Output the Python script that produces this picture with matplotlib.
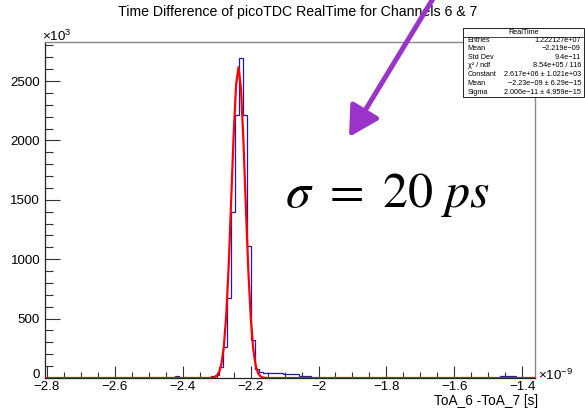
import numpy as np
import matplotlib
matplotlib.use("Agg")
import matplotlib.pyplot as plt
import matplotlib.transforms as mtransforms
from matplotlib.patches import Rectangle, FancyArrowPatch
from matplotlib.ticker import FixedLocator, MultipleLocator, FuncFormatter

plt.rcParams['font.family'] = ['Liberation Sans', 'DejaVu Sans']
plt.rcParams['mathtext.fontset'] = 'custom'
plt.rcParams['mathtext.rm'] = 'Liberation Sans'
plt.rcParams['mathtext.it'] = 'Liberation Sans:italic'

# ---------------- data (x in 1e-9 s, counts in 1e3) ----------------
title = "Time Difference of picoTDC RealTime for Channels 6 & 7"
xlabel = "ToA_6 -ToA_7 [s]"
bin_width = 0.0118
bin_centers = [-2.4164, -2.3102, -2.2984, -2.2866, -2.2748, -2.2630, -2.2512,
               -2.2394, -2.2276, -2.2158, -2.2040, -2.1922, -2.1804, -2.1686,
               -2.1568, -2.1450, -2.1332, -2.1214, -2.1096, -2.0978, -2.0860,
               -2.0742, -2.0624, -2.0506, -2.0388, -2.0270,
               -1.4606, -1.4488, -1.4370, -1.4252]
counts = [20, 18, 25, 93, 262, 676, 1394,
          2213, 2692, 2213, 1109, 321, 76, 50,
          42, 40, 40, 38, 38, 32, 30,
          31, 30, 20, 19, 18,
          17, 17, 17, 15]
xticks = [-2.8, -2.6, -2.4, -2.2, -2.0, -1.8, -1.6, -1.4]
yticks = [0, 500, 1000, 1500, 2000, 2500]
x_range = (-2.806, -1.362)
y_max = 2829
fit_const = 2617.0
fit_mean = -2.236
fit_sigma = 0.02006
fit_npx = 200
stats_title = "RealTime"
stats_labels = ["Entries", "Mean", "Std Dev", "\u03c7\u00b2 / ndf", "Constant", "Mean", "Sigma"]
stats_values = ["1.222127e+07", "\u22122.219e\u221209", "9.4e\u221211", "8.54e+05 / 116",
                "2.617e+06 \u00b1 1.021e+03", "\u22122.23e\u221209 \u00b1 6.29e\u221215",
                "2.006e\u221211 \u00b1 4.959e\u221215"]
annotation = r"$\sigma\ =\ \mathrm{20}\ ps$"

# ---------------- figure ----------------
W, H = 585, 408
fig = plt.figure(figsize=(W / 100, H / 100), dpi=100)
L, R, B, T = 45, 535, 378, 42
ax = fig.add_axes([L / W, 1 - B / H, (R - L) / W, (B - T) / H])

# histogram on a regular grid
ref_c = bin_centers[8]
n_left = int(np.ceil((ref_c - bin_width / 2 - x_range[0]) / bin_width))
start = ref_c - bin_width / 2 - n_left * bin_width
nb = int(np.ceil((x_range[1] - start) / bin_width))
edges = start + bin_width * np.arange(nb + 1)
full = np.zeros(nb)
for c, v in zip(bin_centers, counts):
    full[int(np.floor((c - start) / bin_width))] = v
ax.stairs(full, edges, color='#1c1ca8', lw=0.9, baseline=None, zorder=2)

# gaussian fit curve
xf = np.linspace(x_range[0], x_range[1], fit_npx + 1)
yf = fit_const * np.exp(-0.5 * ((xf - fit_mean) / fit_sigma) ** 2)
ax.plot(xf, yf, color='#ff0000', lw=1.6, zorder=3, solid_joinstyle='round')

ax.set_xlim(*x_range)
ax.set_ylim(0, y_max)

ax.xaxis.set_major_locator(FixedLocator(xticks))
ax.xaxis.set_minor_locator(MultipleLocator(0.05))
ax.yaxis.set_major_locator(FixedLocator(yticks))
ax.yaxis.set_minor_locator(MultipleLocator(100))
ax.xaxis.set_major_formatter(FuncFormatter(lambda v, p: f"{v:g}".replace('-', '\u2212')))
ax.yaxis.set_major_formatter(FuncFormatter(lambda v, p: f"{v:g}"))
ax.tick_params(which='both', direction='in', top=False, right=False, labelsize=9.6, color='#333333')
ax.tick_params(axis='x', which='major', length=9, width=0.8, pad=2.0)
ax.tick_params(axis='x', which='minor', length=4.5, width=0.8)
ax.tick_params(axis='y', which='major', length=11, width=0.8, pad=3.5)
ax.tick_params(axis='y', which='minor', length=5.5, width=0.8)
for s in ['left', 'bottom']:
    ax.spines[s].set_color('#222222')
    ax.spines[s].set_linewidth(0.9)
for s in ['top', 'right']:
    ax.spines[s].set_color('#888888')
    ax.spines[s].set_linewidth(1.0)

# lift the "0" y label slightly, as in the reference
fig.canvas.draw()
zero_lab = ax.yaxis.get_majorticklabels()[0]
zero_lab.set_transform(zero_lab.get_transform() +
                       mtransforms.ScaledTranslation(0, 4 / 100, fig.dpi_scale_trans))

# axis multipliers and labels
fig.text(L / W - 0.005, 1 - 36 / H, r"$\times10^{3}$", fontsize=9.6, ha='left', va='center')
fig.text(538 / W, 1 - 375 / H, r"$\times10^{-9}$", fontsize=9.6, ha='left', va='center')
fig.text(538 / W, 1 - 401.5 / H, xlabel, fontsize=9.8, ha='right', va='center')
fig.text(298 / W, 1 - 12 / H, title, fontsize=10.2, ha='center', va='center')

# stats box
bx0, bx1, by0, by1 = 463, 584, 28, 97
fig.patches.append(Rectangle((bx0 / W, 1 - by1 / H), (bx1 - bx0) / W, (by1 - by0) / H,
                             transform=fig.transFigure, facecolor='white',
                             edgecolor='#222222', lw=0.7, zorder=5))
fig.lines.append(plt.Line2D([bx0 / W, bx1 / W], [1 - 36.7 / H, 1 - 36.7 / H],
                            transform=fig.transFigure, color='#222222', lw=0.6, zorder=6))
fig.text((bx0 + bx1) / 2 / W, 1 - 32.3 / H, stats_title, fontsize=5.2, ha='center', va='center', zorder=7)
row_y = [41, 48.8, 57.3, 65.9, 75, 83.8, 92.3]
for yy, lab, val in zip(row_y, stats_labels, stats_values):
    fig.text(467.5 / W, 1 - yy / H, lab, fontsize=5.2, ha='left', va='center', zorder=7)
    fig.text(581 / W, 1 - yy / H, val, fontsize=5.2, ha='right', va='center', zorder=7)

# big sigma annotation
fig.text(388 / W, 1 - 207 / H, annotation, fontsize=36, ha='center', va='baseline',
         math_fontfamily='stix')

# purple arrow
arr = FancyArrowPatch((434, H + 3), (349, H - 137), transform=None,
                      arrowstyle='-|>,head_length=0.9,head_width=0.5',
                      mutation_scale=20, lw=3.6, color='#9a34c8',
                      shrinkA=0, shrinkB=0, zorder=10)
fig.patches.append(arr)

fig.savefig("out.png", dpi=100)
